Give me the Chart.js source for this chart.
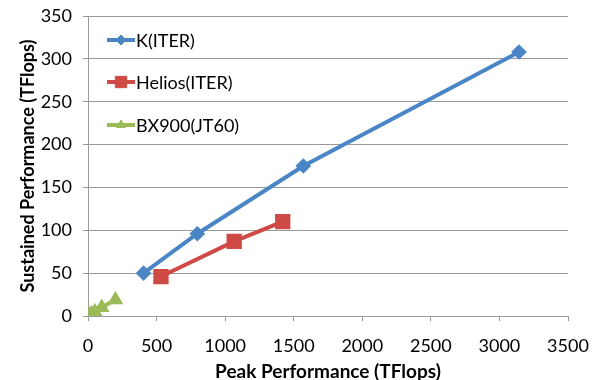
<!DOCTYPE html>
<html>
<head>
<meta charset="utf-8">
<script src="https://cdn.jsdelivr.net/npm/chart.js@4"></script>
<style>
  html, body { margin: 0; padding: 0; background: #fff; }
  #wrap { width: 594px; height: 380px; }
</style>
</head>
<body>
<div id="wrap"><canvas id="chart"></canvas></div>
<script>
// data (TFlops)
var kPeak = [405, 797, 1570, 3143];
var kSustained = [50, 96, 175, 308];
var heliosPeak = [532, 1066, 1420];
var heliosSustained = [46, 87, 110];
var bxPeak = [13, 25, 50, 100, 200];
var bxSustained = [1, 2.5, 5, 10, 19];
var seriesNames = ["K(ITER)", "Helios(ITER)", "BX900(JT60)"];
var xTitle = "Peak Performance (TFlops)";
var yTitle = "Sustained Performance (TFlops)";

function pts(xs, ys) {
  return xs.map(function (x, i) { return {x: x, y: ys[i]}; });
}

var gridColor = "#9a9a9a";
var fontFam = "Lato, 'Open Sans', sans-serif";

// legend drawn inside the plot, line + marker like the original
const insideLegend = {
  id: "insideLegend",
  afterDatasetsDraw(chart) {
    const ctx = chart.ctx;
    const x0 = 107, x1 = 135;
    const rows = [40, 82, 125];
    ctx.save();
    chart.data.datasets.forEach(function (ds, i) {
      const y = rows[i];
      ctx.strokeStyle = ds.borderColor;
      ctx.lineWidth = ds.borderWidth;
      ctx.beginPath();
      ctx.moveTo(x0, y);
      ctx.lineTo(x1, y);
      ctx.stroke();
      ctx.fillStyle = ds.backgroundColor;
      ctx.lineWidth = 1;
      Chart.helpers.drawPoint(ctx, {pointStyle: ds.pointStyle, radius: ds.pointRadius, borderWidth: 1}, (x0 + x1) / 2, y);
      ctx.fillStyle = "#000";
      ctx.font = "18px " + fontFam;
      ctx.textBaseline = "middle";
      ctx.textAlign = "left";
      ctx.fillText(ds.label, x1 + 1, y + 1);
    });
    ctx.restore();
  }
};

function plain(v) { return String(v); }

new Chart(document.getElementById("chart"), {
  type: "scatter",
  data: {
    datasets: [
      {
        label: seriesNames[0],
        data: pts(kPeak, kSustained),
        showLine: true,
        borderColor: "#4a86c6",
        backgroundColor: "#4a86c6",
        borderWidth: 4,
        pointStyle: "rectRot",
        pointRadius: 5,
        pointHoverRadius: 5
      },
      {
        label: seriesNames[1],
        data: pts(heliosPeak, heliosSustained),
        showLine: true,
        borderColor: "#cf4a44",
        backgroundColor: "#cf4a44",
        borderWidth: 4,
        pointStyle: "rect",
        pointRadius: 8,
        pointHoverRadius: 8
      },
      {
        label: seriesNames[2],
        data: pts(bxPeak, bxSustained),
        showLine: true,
        borderColor: "#9bbb59",
        backgroundColor: "#9bbb59",
        borderWidth: 4,
        pointStyle: "triangle",
        pointRadius: 5,
        pointHoverRadius: 5
      }
    ]
  },
  options: {
    responsive: true,
    maintainAspectRatio: false,
    animation: false,
    layout: { padding: { top: 16, right: 26, bottom: 0, left: 0 } },
    plugins: {
      legend: { display: false },
      tooltip: { enabled: false }
    },
    scales: {
      x: {
        type: "linear",
        min: 0,
        max: 3500,
        afterFit: function (s) { s.height = 64; s.paddingLeft = 0; s.paddingRight = 0; },
        ticks: { stepSize: 500, color: "#000", padding: 14, maxRotation: 0, callback: plain, font: { family: fontFam, size: 18 } },
        grid: { drawOnChartArea: false, drawTicks: true, tickLength: 5, color: gridColor },
        border: { display: true, color: gridColor },
        title: { display: true, text: xTitle, color: "#000", padding: { top: 0, bottom: -1 }, font: { family: fontFam, size: 19, weight: "bold", lineHeight: 1 } }
      },
      y: {
        min: 0,
        max: 350,
        afterFit: function (s) { s.width = 88; s.paddingTop = 0; s.paddingBottom = 0; },
        ticks: { stepSize: 50, color: "#000", padding: 11, callback: plain, font: { family: fontFam, size: 18 } },
        grid: { drawTicks: true, tickLength: 5, color: gridColor },
        border: { display: true, color: gridColor },
        title: { display: true, text: yTitle, color: "#000", padding: { top: 17, bottom: 0 }, font: { family: fontFam, size: 18, weight: "bold" } }
      }
    }
  },
  plugins: [insideLegend]
});
</script>
</body>
</html>
